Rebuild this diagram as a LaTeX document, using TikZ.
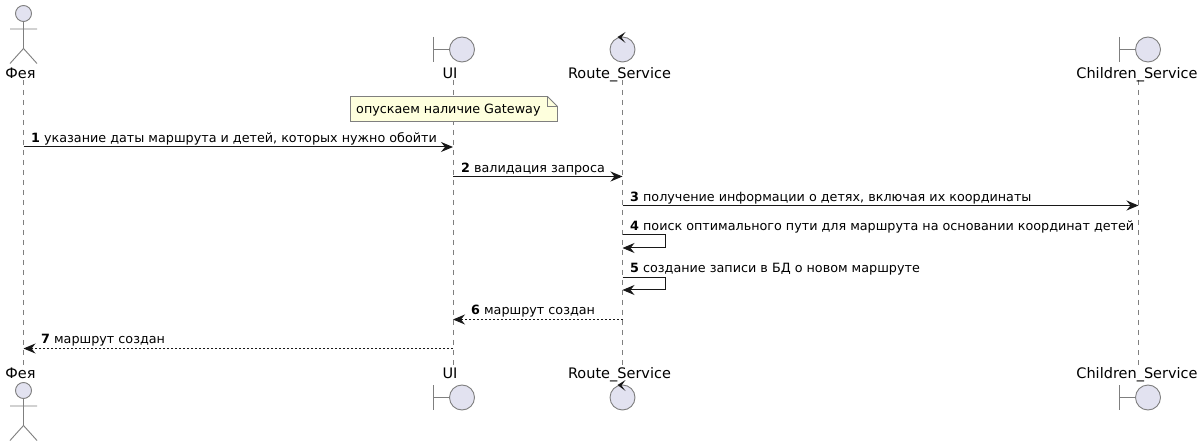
\documentclass[tikz,border=0pt]{standalone}
\usepackage{fontspec}
\setmainfont{DejaVu Sans}
\usetikzlibrary{arrows.meta}
\definecolor{partfill}{HTML}{E2E2F0}
\definecolor{partline}{HTML}{7F7F7F}
\definecolor{notefill}{HTML}{FEFFDD}
\definecolor{ink}{HTML}{181818}
\tikzset{
  lifeline/.style={draw=partline,line width=0.9pt,dash pattern=on 5pt off 5pt},
  partshape/.style={draw=partline,line width=0.9pt,fill=partfill},
  partstroke/.style={draw=partline,line width=0.9pt},
  plabel/.style={inner sep=0pt,anchor=base,text=black,font=\fontsize{14.5}{16}\selectfont},
  mlabel/.style={inner sep=0pt,anchor=base west,text=black,font=\fontsize{12.75}{15}\selectfont},
  msg/.style={draw=ink,line width=1pt,-{Stealth[length=12pt,width=10pt,inset=4pt]}},
  reply/.style={msg,dash pattern=on 2pt off 2pt},
  ctrltip/.style={fill=ink,draw=none},
}
\newcommand{\actorfig}[2]{%
  \draw[partshape] (#1,#2) circle[radius=8];
  \draw[partstroke] (#1,#2+8) -- (#1,#2+35) (#1-13.5,#2+15.5) -- (#1+13.5,#2+15.5)
    (#1-13.5,#2+50) -- (#1,#2+35) -- (#1+13.5,#2+50);
}
\newcommand{\boundfig}[2]{%
  \draw[partstroke] (#1-29,#2-12.5) -- (#1-29,#2+12.5) (#1-29,#2) -- (#1-12.5,#2);
  \draw[partshape] (#1,#2) circle[radius=12.5];
}
\newcommand{\ctrlfig}[2]{%
  \draw[partshape] (#1,#2) circle[radius=12.5];
  \fill[ctrltip] (#1+3,#2-17.5) -- (#1-5,#2-12.5) -- (#1+3,#2-6.5) -- (#1-1,#2-12) -- cycle;
}
\begin{document}
\begin{tikzpicture}[x=1pt,y=-1pt]
\useasboundingbox (0,0) rectangle (1202,446);
\fill[white] (0,0) rectangle (1202,446);
% lifeline ends
\coordinate (feyaT) at (23.5,80); \coordinate (feyaB) at (23.5,366);
\coordinate (uiT) at (453,80); \coordinate (uiB) at (453,366);
\coordinate (routeT) at (622.5,80); \coordinate (routeB) at (622.5,366);
\coordinate (childT) at (1138.5,80); \coordinate (childB) at (1138.5,366);
\draw[lifeline] (feyaT) -- (feyaB);
\draw[lifeline] (uiT) -- (uiB);
\draw[lifeline] (routeT) -- (routeB);
\draw[lifeline] (childT) -- (childB);
% participants top
\actorfig{23.5}{13.5}
\boundfig{462}{49.5}
\ctrlfig{622.5}{49.5}
\boundfig{1148}{49.5}
\node[plabel] (feyaTop) at (20.5,78.5) {Фея};
\node[plabel] (uiTop) at (450,78.5) {UI};
\node[plabel] (routeTop) at (619.5,78.5) {Route\_Service};
\node[plabel] (childTop) at (1137,78.5) {Children\_Service};
% participants bottom
\node[plabel] (feyaBot) at (20.5,378.5) {Фея};
\node[plabel] (uiBot) at (450,378.5) {UI};
\node[plabel] (routeBot) at (619.5,378.5) {Route\_Service};
\node[plabel] (childBot) at (1137,378.5) {Children\_Service};
\actorfig{23.5}{390.5}
\boundfig{462}{397.5}
\ctrlfig{622.5}{397.5}
\boundfig{1148}{397.5}
% note
\draw[partstroke,fill=notefill] (350.5,96.5) -- (547.5,96.5) -- (557.5,106.5) -- (557.5,121.5) -- (350.5,121.5) -- cycle;
\draw[partstroke] (547.5,96.5) -- (547.5,106.5) -- (557.5,106.5);
\node[mlabel] (note) at (356,114) {опускаем наличие Gateway};
% messages
\coordinate (f1) at (feyaT |- 0,147); \coordinate (u1) at (uiT |- 0,147);
\coordinate (u2) at (uiT |- 0,176.5); \coordinate (r2) at (routeT |- 0,176.5);
\coordinate (r3) at (routeT |- 0,205.5); \coordinate (c3) at (childT |- 0,205.5);
\coordinate (r4a) at (routeT |- 0,235); \coordinate (r4b) at (routeT |- 0,248);
\coordinate (r5a) at (routeT |- 0,277.5); \coordinate (r5b) at (routeT |- 0,290);
\coordinate (r6) at (routeT |- 0,319.5); \coordinate (u6) at (uiT |- 0,319.5);
\coordinate (u7) at (uiT |- 0,348.5); \coordinate (f7) at (feyaT |- 0,348.5);
\draw[msg] (f1) -- (u1);
\draw[msg] (u2) -- (r2);
\draw[msg] (r3) -- (c3);
\draw[msg] (r4a) -- ++(42.5,0) -- ++(0,13) -- (r4b);
\draw[msg] (r5a) -- ++(42.5,0) -- ++(0,12.5) -- (r5b);
\draw[reply] (r6) -- (u6);
\draw[reply] (u7) -- (f7);
\node[mlabel] (m1) at (31,142.7) {\textbf{1} указание даты маршрута и детей, которых нужно обойти};
\node[mlabel] (m2) at (461,172.7) {\textbf{2} валидация запроса};
\node[mlabel] (m3) at (630,201.7) {\textbf{3} получение информации о детях, включая их координаты};
\node[mlabel] (m4) at (630,230.7) {\textbf{4} поиск оптимального пути для маршрута на основании координат детей};
\node[mlabel] (m5) at (630,272.7) {\textbf{5} создание записи в БД о новом маршруте};
\node[mlabel] (m6) at (471,314.7) {\textbf{6} маршрут создан};
\node[mlabel] (m7) at (41,343.5) {\textbf{7} маршрут создан};
\end{tikzpicture}
\end{document}
